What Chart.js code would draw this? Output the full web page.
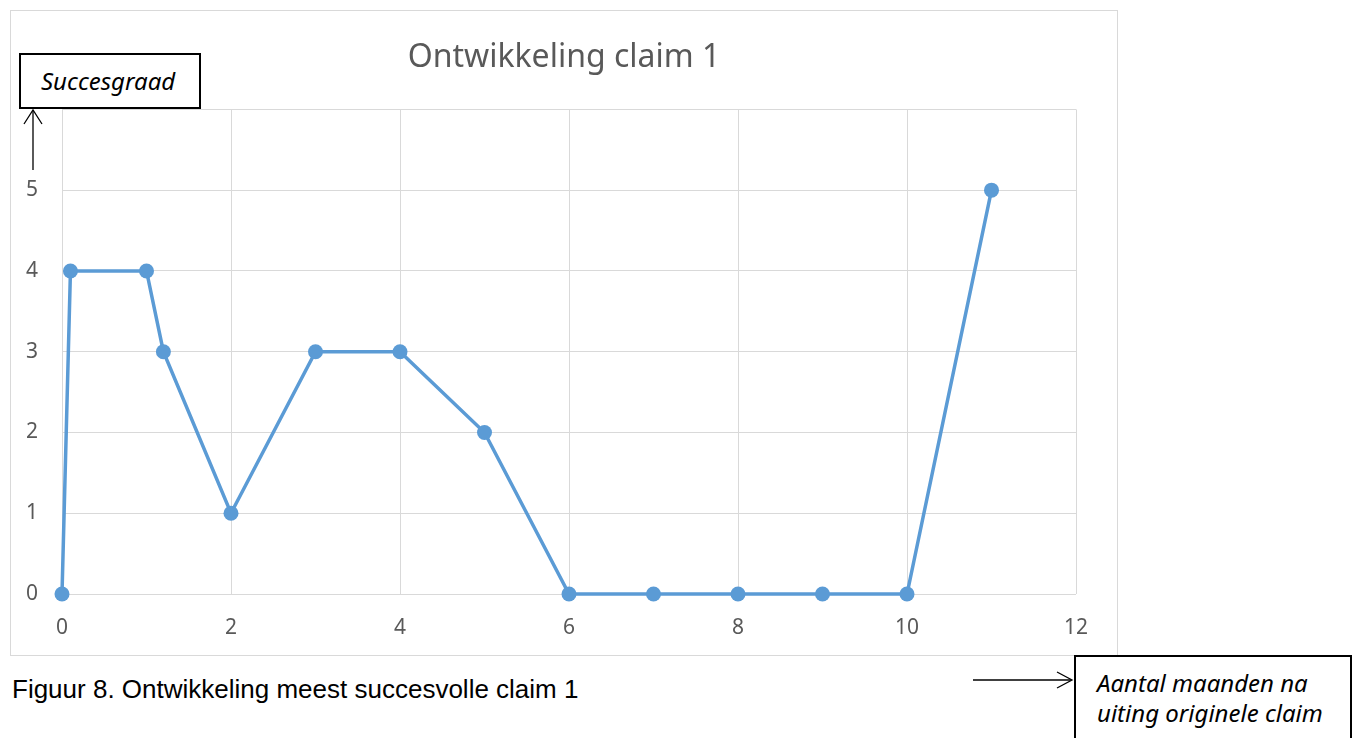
<!DOCTYPE html>
<html>
<head>
<meta charset="utf-8">
<script src="https://cdn.jsdelivr.net/npm/chart.js@4"></script>
<style>
  html, body { margin: 0; padding: 0; background: #fff; }
  body { width: 1360px; height: 738px; position: relative; overflow: hidden; }
  #frame { position: absolute; left: 10px; top: 10px; width: 1106px; height: 644px; border: 1px solid #d9d9d9; }
  #frame canvas { display: block; }
  .box { position: absolute; background: #fff; border: 2px solid #000; box-sizing: border-box;
         font-family: "Noto Sans", sans-serif; font-style: italic; font-size: 24px; color: #000; }
  #ylabel { left: 19px; top: 53px; width: 182px; height: 56px; padding: 10px 0 0 20px; line-height: 32px; }
  #xlabel { left: 1074px; top: 655px; width: 278px; height: 100px; padding: 11px 0 0 21px; line-height: 30px; }
  #caption { position: absolute; left: 12px; top: 674px; font-family: "Liberation Sans", Arial, sans-serif; font-size: 26px; color: #000; }
  svg { position: absolute; left: 0; top: 0; }
</style>
</head>
<body>
<div id="frame"><canvas id="chart" width="1106" height="644"></canvas></div>
<div class="box" id="ylabel">Succesgraad</div>
<div class="box" id="xlabel">Aantal maanden na<br>uiting originele claim</div>
<div id="caption">Figuur 8. Ontwikkeling meest succesvolle claim 1</div>
<svg width="1360" height="738">
  <g stroke="#000" stroke-width="1.3" fill="none">
    <line x1="33" y1="170" x2="33" y2="111"/>
    <polyline points="24,124 33,110 42,124"/>
    <line x1="973" y1="680" x2="1071" y2="680"/>
    <polyline points="1057,672 1072,680 1057,688"/>
  </g>
</svg>
<script>
// Months after the original claim, and success score
const months = [0, 0.1, 1, 1.2, 2, 3, 4, 5, 6, 7, 8, 9, 10, 11];
const score  = [0, 4, 4, 3, 1, 3, 3, 2, 0, 0, 0, 0, 0, 5];

const chartTitle = 'Ontwikkeling claim 1';
const xTicksMax = 12;
const yTicksMax = 6;

const points = months.map((m, i) => ({ x: m, y: score[i] }));

const tickFont = { family: 'Noto Sans', size: 21 };

const ctx = document.getElementById('chart').getContext('2d');
new Chart(ctx, {
  type: 'scatter',
  data: {
    datasets: [{
      data: points,
      showLine: true,
      clip: false,
      borderColor: '#5b9bd5',
      backgroundColor: '#5b9bd5',
      borderWidth: 3.5,
      pointRadius: 7.5,
      pointBorderWidth: 0,
      tension: 0
    }]
  },
  options: {
    responsive: false,
    animation: false,
    layout: { padding: 0 },
    scales: {
      x: {
        type: 'linear',
        min: 0,
        max: xTicksMax,
        afterFit: scale => { scale.height = 61; },
        ticks: { stepSize: 2, color: '#595959', padding: 21, font: tickFont },
        grid: { color: '#d9d9d9', drawTicks: false },
        border: { display: false }
      },
      y: {
        min: 0,
        max: yTicksMax,
        afterFit: scale => { scale.width = 51; },
        ticks: {
          stepSize: 1,
          color: '#595959',
          padding: 24,
          font: tickFont,
          callback: v => (v === yTicksMax ? '' : v)
        },
        grid: { color: '#d9d9d9', drawTicks: false },
        border: { display: false }
      },
      // empty right-hand axis, only keeps the margin on the right
      yRight: {
        position: 'right',
        min: 0,
        max: yTicksMax,
        afterFit: scale => { scale.width = 41; },
        ticks: { display: false },
        grid: { display: false },
        border: { display: false }
      }
    },
    plugins: {
      legend: { display: false },
      tooltip: { enabled: false },
      title: {
        display: true,
        text: chartTitle,
        color: '#595959',
        font: { family: 'Noto Sans', size: 32, weight: 'normal' },
        padding: { top: 28, bottom: 32 }
      }
    }
  }
});
</script>
</body>
</html>
